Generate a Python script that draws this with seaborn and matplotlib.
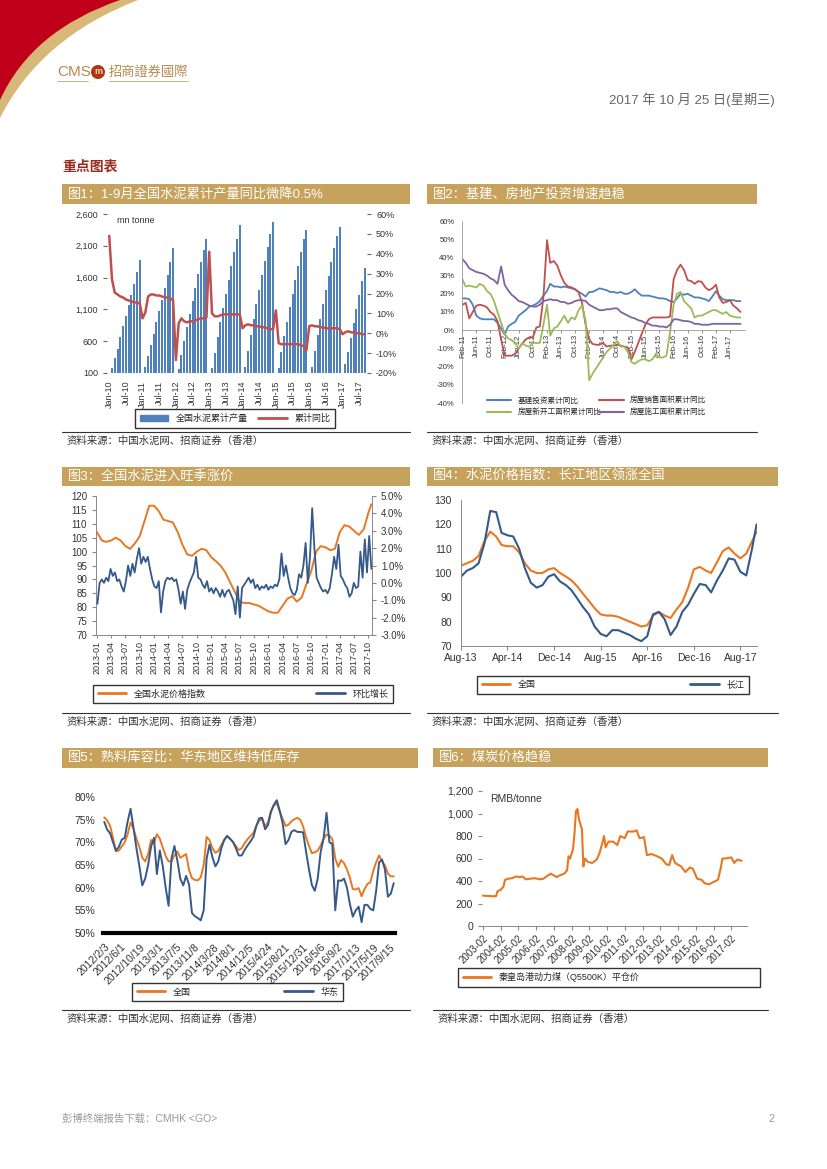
import numpy as np
import pandas as pd
import matplotlib
matplotlib.use("Agg")
import matplotlib.pyplot as plt
import matplotlib.patches as mpatches
from matplotlib.path import Path
from matplotlib.lines import Line2D
import seaborn as sns

sns.set_style("white")
plt.rcParams["font.family"] = ["Liberation Sans", "Noto Sans CJK SC", "DejaVu Sans"]
plt.rcParams["axes.unicode_minus"] = False

nan = np.nan

# ---------------- data ----------------
# fig1: cumulative cement output (mn tonne) and cumulative yoy (%), Jan-10 .. Sep-17
cement_prod = [
    nan, 180, 330, 480, 660, 840, 1000, 1170, 1330, 1500, 1690, 1870,
    nan, 200, 360, 540, 720, 900, 1080, 1250, 1440, 1640, 1850, 2060,
    nan, 160, 380, 600, 830, 1030, 1230, 1440, 1650, 1850, 2030, 2200,
    nan, 180, 420, 660, 900, 1120, 1340, 1560, 1780, 2000, 2210, 2420,
    nan, 200, 440, 700, 950, 1180, 1400, 1640, 1860, 2080, 2290, 2480,
    nan, 180, 430, 680, 900, 1130, 1350, 1570, 1780, 2000, 2200, 2350,
    nan, 190, 450, 700, 950, 1180, 1400, 1620, 1850, 2060, 2260, 2400,
    nan, 240, 430, 650, 880, 1110, 1330, 1540, 1750]
cement_yoy = [
    49, 27, 20.5, 19.5, 18.5, 18, 17, 16.5, 16, 15.5, 15.5, 15,
    7.5, 10.5, 18.5, 19.5, 19.5, 19, 19, 18.5, 18, 18, 17.5, 16.5,
    -13.5, 5, 7.5, 6, 5.5, 6, 6, 6.5, 7, 7.5, 7.5, 8,
    41, 10, 8.5, 8.5, 9, 9.5, 9.5, 9.5, 9.5, 9.5, 9.5, 9.5,
    2.5, 4, 4.5, 4, 4, 3.5, 3.5, 3, 3, 2.5, 2, 2,
    11.5, -5, -5.5, -5.5, -5.5, -5.5, -5.5, -5.5, -5.5, -6, -6.5, -8.5,
    3.5, 4, 3.5, 3.5, 3, 3, 2.5, 2.5, 2.5, 2.5, 2.5, 2,
    -0.5, 0.5, 1, 0.5, 0.5, 0, 0, -0.5, -0.5]
cement_ticks = ["Jan-10", "Jul-10", "Jan-11", "Jul-11", "Jan-12", "Jul-12", "Jan-13", "Jul-13",
                "Jan-14", "Jul-14", "Jan-15", "Jul-15", "Jan-16", "Jul-16", "Jan-17", "Jul-17"]

# fig2: investment / property yoy (%), Feb-11 .. Sep-17
infra_yoy = [
    17.5, 17.5, 17, 14, 8, 6.5, 6, 6, 6, 6, 4, 1, -2.5, 2, 3.5, 4.5, 8, 9.5, 11, 13,
    13.5, 14.5, 16, 19, 21.5, 25.5, 24, 24, 23.5, 24, 23.5, 23, 22.5, 21, 20, 18.5, 21, 21, 22, 23,
    22.5, 22, 21, 21, 20.5, 21, 20, 20, 21, 22.5, 20.5, 19, 19, 19, 18.5, 18, 17.5, 17.5, 17, 16,
    15.5, 17.5, 20, 19.5, 20, 19, 18, 18, 17.5, 17, 16, 18.5, 21.5, 19, 17, 16.5, 16.5, 16.5, 16, 16]
sales_yoy = [
    14, 15, 6.5, 10, 13.5, 14, 13.5, 12.5, 10, 8.5, 5, -5, -14, -14, -14, -13, -10, -7.5, -5, -4,
    -4, 1.5, 2, 18, 49.5, 37, 38, 35.5, 30, 26, 24, 23.5, 22.5, 21, 15, 3, -5, -7.5, -8, -8,
    -7, -9, -8.5, -8.5, -8, -8.5, -9, -9.5, -16, -12, -7, -2, 3, 6, 7, 7, 7, 7, 7, 7.5,
    28, 33, 36, 33, 27.5, 27, 25.5, 27, 26.5, 23.5, 22, 23, 25, 18, 15, 15.5, 16.5, 13.5, 12, 10]
starts_yoy = [
    28, 24, 24.5, 24, 23.5, 25.5, 24.5, 21.5, 20, 16, 10, 4, -2, -4.5, -5.5, -7, -10, -7, -8.5, -9,
    -7, -7, -7, 3, 14, -3, 1, 2, 5, 8, 4, 7, 6, 11, 13.5, 5, -27.5, -24, -21, -18,
    -15, -12, -10, -8, -6, -9, -9, -12, -17.5, -18.5, -17, -16, -16, -17, -16, -13, -15, -15, -14, -1,
    14, 20, 21, 16, 14, 12, 7, 8, 8, 9, 10, 11, 11, 10, 9, 10, 8, 7.5, 7, 7]
construct_yoy = [
    39, 37, 34, 33, 32, 31.5, 31, 30, 28.5, 27.5, 25.5, 35, 25, 22, 19.5, 18, 16, 15.5, 14.5, 13.5,
    13, 13, 14, 16, 16.5, 17, 16.5, 16.5, 15.5, 15.5, 14.5, 15, 16, 16.5, 16.5, 16, 14, 13, 12, 11,
    11, 11.5, 11.5, 12, 12, 10, 9, 8, 7, 6.5, 5.5, 5, 4, 3.5, 2.5, 2.5, 2, 2, 1.5, 3,
    6, 6, 5.5, 5, 5, 4.5, 3.5, 3.5, 3, 3, 3, 3.5, 3.5, 3.5, 3.5, 3.5, 3.5, 3.5, 3.5, 3.5]

# fig3: national cement price index (monthly) and w/w change (%, bi-weekly)
price_index = [
    107, 104, 103.5, 104, 105, 104, 102, 101, 103, 105.5,
    111, 116.5, 116.5, 114.5, 111.5, 111, 110.5, 107, 102.5, 99,
    98.5, 100, 101, 100.5, 98, 96.5, 95, 92.5, 89, 85.5,
    82, 81.5, 81.5, 81, 80.5, 79.5, 78.5, 78, 78, 80.5,
    83, 84, 82, 83.5, 88.5, 93, 100, 102, 101.5, 100.5,
    101, 107, 109.5, 109, 107.5, 106, 108, 114, 117]
price_chg = [
    -1.2, 0.0, 0.2, 0.0, 0.3, 0.1, 0.8, 0.4, 0.6, 0.1,
    0.2, -0.2, -0.5, 0.1, 1.0, 0.4, 1.1, 0.6, 1.4, 2.0,
    1.1, 1.5, 1.2, 1.5, 0.8, 0.2, -0.2, -0.3, 0.1, -1.7,
    -0.5, 0.1, 0.3, 0.2, 0.3, 0.1, 0.2, -0.4, -1.2, -0.5,
    -1.5, -0.4, 0.0, 0.3, 0.6, 1.5, 0.3, 0.2, -0.1, -0.3,
    0.1, -0.5, -0.3, -0.6, -0.3, -0.5, -0.8, -0.4, -0.8, -0.5,
    -0.4, -0.7, -1.0, -1.8, -0.2, -2.0, -0.3, -0.1, 0.1, 0.3,
    0.0, 0.2, -0.3, -0.1, -0.4, -0.2, -0.3, -0.1, -0.4, -0.2,
    -0.3, -0.1, -0.2, 0.2, 1.7, 0.4, 1.0, 0.3, -0.3, -0.6,
    -0.7, -0.4, 0.5, 0.3, 1.0, 2.3, 0.0, 1.5, 4.3, 2.0,
    0.3, 0.0, -0.3, -0.5, -0.4, -0.6, -0.3, 0.5, 1.5, 0.8,
    2.2, 0.4, 0.2, -0.1, -0.3, -0.8, -0.6, 0.0, -0.3, -0.2,
    1.8, 0.3, 2.5, 0.6, 2.7, 0.8]

# fig4: price index, national vs Yangtze
idx_national = [
    103, 104, 105, 107, 113, 117, 115, 111.5, 111, 111,
    108.5, 104, 101, 100, 100, 101.5, 102, 100, 98.5, 97,
    94.5, 91.5, 88.5, 85.5, 83, 82.5, 82.5, 82, 81, 80,
    79, 78, 78.5, 82.5, 84, 82.5, 81.5, 85, 88, 94,
    101.5, 102.5, 101, 100, 104.5, 109, 110.5, 108, 106, 108,
    113, 117]
idx_yangtze = [
    98.5, 101, 102, 104, 112, 125.5, 125, 116.5, 115.5, 115,
    110, 102, 96, 94, 95, 98.5, 99.5, 96.5, 95, 93,
    89.5, 86, 83, 78, 75, 74, 76.5, 76.5, 75.5, 74.5,
    73, 72, 74, 83, 84, 81, 74.5, 78, 84, 87,
    91.5, 95.5, 95, 92, 97, 101, 106, 105.5, 100.5, 99,
    110, 120]
idx_ticks = ["Aug-13", "Apr-14", "Dec-14", "Aug-15", "Apr-16", "Dec-16", "Aug-17"]

# fig5: clinker inventory ratio (%), national vs East China
inv_national = [
    75.5, 74.8, 73.6, 71, 68, 68.2, 69.1, 70, 71.8, 74.4,
    73, 70.8, 69, 66.6, 65.8, 67.4, 70.5, 69.8, 71.8, 70.8,
    68.9, 67, 65.8, 65.8, 67.1, 68, 66.6, 67, 67.4, 63.9,
    62.1, 61.7, 61.6, 62.3, 64.9, 71.2, 70.5, 68.7, 67.7, 68.1,
    69.4, 70.5, 71.4, 70.8, 70.1, 69.2, 68.3, 68.7, 69.8, 70.7,
    71.4, 72.1, 73.6, 74.8, 75.1, 73.6, 74.4, 76.9, 78.1, 78.6,
    76.8, 75.2, 73.6, 73.9, 74.6, 75.1, 75.4, 75, 73.5, 71.1,
    69.3, 67.6, 67.8, 68.2, 69.3, 70.8, 71.7, 71.5, 70.7, 66.4,
    64.6, 66.1, 65.4, 64, 62.2, 59.7, 59.6, 59.9, 58.1, 59.7,
    60.8, 61.2, 63.7, 65.6, 67.1, 65.8, 64.9, 63.1, 62.5, 62.5]
inv_east = [
    74.5, 72.8, 72, 70, 68.2, 69, 70.6, 71, 74.6, 77.4,
    73.2, 68.7, 64.8, 60.5, 62, 65, 69, 71, 63, 68.2,
    64.8, 60, 56, 66.5, 69.2, 66, 62, 60.5, 62.6, 60.7,
    54.4, 53.7, 53.3, 52.8, 55, 66.4, 69.5, 66.7, 64.7, 65.8,
    68.6, 70.5, 71.4, 70.8, 70.1, 68.7, 67.1, 67.1, 68.3, 69.3,
    70.2, 71.2, 73.6, 75.3, 75.4, 72.9, 73.8, 76.7, 78.3, 79.3,
    77, 74.2, 69.6, 70.5, 72.3, 72.7, 72.3, 72.3, 72.2, 68,
    64.1, 60.6, 59.3, 62, 67.9, 70.8, 76.5, 70, 69.6, 55,
    61.6, 61.5, 62, 60, 56.4, 53.6, 55, 55.8, 52.4, 56.2,
    56.2, 55.3, 55, 59.4, 65.6, 66.2, 64, 58, 58.7, 61]
inv_ticks = ["2012/2/3", "2012/6/1", "2012/10/19", "2013/3/1", "2013/7/5", "2013/11/8",
             "2014/3/28", "2014/8/1", "2014/12/5", "2015/4/24", "2015/8/21", "2015/12/31",
             "2016/5/6", "2016/9/2", "2017/1/13", "2017/5/19", "2017/9/15"]

# fig6: Qinhuangdao thermal coal price (RMB/tonne)
coal_dates = [
    "2003-02", "2003-08", "2003-11", "2003-12", "2004-02", "2004-04", "2004-05", "2004-07",
    "2004-10", "2004-12", "2005-03", "2005-05", "2005-07", "2005-10", "2006-01", "2006-05",
    "2006-07", "2006-09", "2006-12", "2007-02", "2007-04", "2007-06", "2007-09", "2007-11",
    "2007-12", "2008-01", "2008-03", "2008-04", "2008-05", "2008-06", "2008-07", "2008-09",
    "2008-10", "2008-11", "2009-01", "2009-04", "2009-07", "2009-09", "2009-11", "2009-12",
    "2010-01", "2010-03", "2010-06", "2010-09", "2010-11", "2011-02", "2011-04", "2011-08",
    "2011-10", "2011-12", "2012-03", "2012-05", "2012-08", "2012-11", "2013-03", "2013-06",
    "2013-08", "2013-10", "2013-12", "2014-04", "2014-07", "2014-10", "2014-12", "2015-03",
    "2015-06", "2015-08", "2015-11", "2016-01", "2016-05", "2016-07", "2016-08", "2016-10",
    "2017-02", "2017-04", "2017-06", "2017-09"]
coal_price = [
    270, 265, 265, 310, 320, 350, 410, 420,
    425, 440, 435, 440, 415, 420, 425, 415,
    420, 440, 465, 450, 435, 450, 465, 495,
    620, 600, 680, 820, 1020, 1040, 950, 860,
    530, 600, 570, 560, 590, 650, 750, 800,
    700, 750, 750, 720, 800, 780, 840, 840,
    850, 780, 790, 630, 640, 625, 600, 550,
    540, 630, 560, 530, 480, 520, 510, 420,
    410, 380, 370, 385, 410, 520, 600, 600,
    610, 560, 590, 580]

# ---------------- page ----------------
W, H = 827, 1169
GOLD = "#C6A25C"
BLUE = "#4F81BD"
RED = "#C0504D"
GREEN = "#9BBB59"
PURPLE = "#8064A2"
ORANGE = "#E87722"
NAVY = "#35598A"
TXT = "#333333"

fig = plt.figure(figsize=(8.27, 11.69), dpi=100)


def fx(x):
    return x / W


def fy(y):
    return 1 - y / H


def box(x0, y0, x1, y1):
    return [fx(x0), fy(y1), (x1 - x0) / W, (y1 - y0) / H]


def hline(x0, x1, y, color, lw):
    fig.add_artist(Line2D([fx(x0), fx(x1)], [fy(y), fy(y)], transform=fig.transFigure,
                          color=color, lw=lw))


def swoosh(x_top, y_left, cx, cy, color):
    verts = [(fx(0), fy(0)), (fx(x_top), fy(0)), (fx(cx), fy(cy)), (fx(0), fy(y_left)), (fx(0), fy(0))]
    codes = [Path.MOVETO, Path.LINETO, Path.CURVE3, Path.CURVE3, Path.CLOSEPOLY]
    fig.add_artist(mpatches.PathPatch(Path(verts, codes), transform=fig.transFigure,
                                      facecolor=color, edgecolor="none"))


def title_bar(x0, y0, x1, y1, text):
    fig.add_artist(mpatches.Rectangle((fx(x0), fy(y1)), (x1 - x0) / W, (y1 - y0) / H,
                                      transform=fig.transFigure, facecolor=GOLD, edgecolor="none"))
    fig.text(fx(x0 + 6), fy((y0 + y1) / 2), text, color="white", fontsize=9.5, va="center")


def source(x0, x1, y):
    hline(x0, x1, y, "#333333", 0.8)
    fig.text(fx(x0 + 5), fy(y + 9), "资料来源：中国水泥网、招商证券（香港）", color=TXT,
             fontsize=7.5, va="center")


def legend_box(handles, labels, x0, y0, x1, y1, ncol, frame=True, fs=6.5):
    leg = fig.legend(handles, labels, loc="center", ncol=ncol,
                     bbox_to_anchor=(fx(x0), fy(y1), (x1 - x0) / W, (y1 - y0) / H),
                     bbox_transform=fig.transFigure, mode="expand", frameon=frame,
                     fancybox=False, edgecolor="black", fontsize=fs, borderaxespad=0,
                     handlelength=3.2, columnspacing=1.0, borderpad=0.5)
    leg.get_frame().set_linewidth(1.0)


# header
swoosh(138, 118, 40, 38, "#D8B878")
swoosh(120, 100, 32, 30, "#C00018")
fig.text(fx(57), fy(72), "CMS", color="#B38B4D", fontsize=11, va="center")
fig.add_artist(mpatches.Ellipse((fx(98), fy(72)), 14 / W, 14 / H, transform=fig.transFigure,
                                facecolor="#B0341A", edgecolor="none"))
fig.text(fx(98), fy(72), "m", color="#F3D9A0", fontsize=6.5, va="center", ha="center", fontweight="bold")
fig.text(fx(109), fy(72), "招商證券國際", color="#B38B4D", fontsize=9.5, va="center",
         family=["Noto Sans CJK TC", "DejaVu Sans"])
hline(57, 88, 81, "#C9A66B", 0.6)
hline(109, 188, 81, "#C9A66B", 0.6)
fig.text(fx(775), fy(100), "2017 年 10 月 25 日(星期三)", color="#666666", fontsize=9.5,
         va="center", ha="right")
fig.text(fx(62), fy(167), "重点图表", color="#9B2D20", fontsize=10, fontweight="bold", va="center")

# footer
fig.text(fx(62), fy(1119), "彭博终端报告下载：CMHK <GO>", color="#999999", fontsize=7.5, va="center")
fig.text(fx(775), fy(1119), "2", color="#999999", fontsize=8, va="center", ha="right")

# title bars and sources
title_bar(62, 184, 410, 204, "图1：1-9月全国水泥累计产量同比微降0.5%")
title_bar(427, 184, 757, 204, "图2：基建、房地产投资增速趋稳")
title_bar(62, 467, 410, 486, "图3：全国水泥进入旺季涨价")
title_bar(427, 467, 778, 486, "图4：水泥价格指数：长江地区领涨全国")
title_bar(62, 748, 418, 768, "图5：熟料库容比：华东地区维持低库存")
title_bar(433, 748, 768, 767, "图6：煤炭价格趋稳")
source(62, 410, 432)
source(427, 757, 432)
source(62, 410, 713)
source(427, 778, 713)
source(62, 410, 1010)
source(433, 768, 1010)


def clean(ax):
    ax.set_xlabel("")
    ax.set_ylabel("")
    for s in ax.spines.values():
        s.set_visible(False)


# ---------------- fig 1 ----------------
ax1 = fig.add_axes(box(107, 214, 367, 373))
df1 = pd.DataFrame({"i": np.arange(len(cement_prod)), "prod": cement_prod}).dropna()
sns.barplot(data=df1, x="i", y="prod", native_scale=True, color=BLUE, saturation=1,
            width=0.72, linewidth=0, edgecolor="none", ax=ax1)
ax1.set_ylim(100, 2600)
ax1.set_xlim(-0.8, len(cement_prod) - 0.2)
ax1.set_yticks(range(100, 2601, 500))
ax1.set_yticklabels([f"{v:,}" for v in range(100, 2601, 500)])
ax1.set_xticks(range(0, len(cement_prod), 6))
ax1.set_xticklabels(cement_ticks, rotation=90)
clean(ax1)
ax1.tick_params(axis="y", left=True, length=3, color="#666", labelsize=6.5, labelcolor=TXT)
ax1.tick_params(axis="x", bottom=False, labelsize=6.5, labelcolor=TXT, pad=2)
ax1.text(0.04, 0.96, "mn tonne", transform=ax1.transAxes, fontsize=6.5, color=TXT, va="center")
ax1b = ax1.twinx()
sns.lineplot(x=np.arange(len(cement_yoy)), y=cement_yoy, ax=ax1b, color=RED, lw=1.8, legend=False)
ax1b.set_ylim(-20, 60)
ax1b.set_yticks(range(-20, 61, 10))
ax1b.set_yticklabels([f"{v}%" for v in range(-20, 61, 10)])
clean(ax1b)
ax1b.tick_params(axis="y", right=True, length=3, color="#666", labelsize=6.5, labelcolor=TXT)
legend_box([mpatches.Patch(color=BLUE), Line2D([], [], color=RED, lw=2)],
           ["全国水泥累计产量", "累计同比"], 135, 410, 335, 427, 2)

# ---------------- fig 2 ----------------
inv_months = pd.date_range("2011-02-01", periods=len(infra_yoy), freq="MS")
ax2 = fig.add_axes(box(462, 221, 745, 403))
series2 = [(infra_yoy, BLUE), (sales_yoy, RED), (starts_yoy, GREEN), (construct_yoy, PURPLE)]
for vals, col in series2:
    sns.lineplot(x=inv_months, y=vals, ax=ax2, color=col, lw=1.3, legend=False)
ax2.set_ylim(-40, 60)
ax2.set_xlim(inv_months[0] - pd.Timedelta(days=4), pd.Timestamp("2017-10-10"))
clean(ax2)
ax2.spines["left"].set_visible(True)
ax2.spines["left"].set_color("#999999")
ax2.spines["left"].set_linewidth(0.6)
ax2.spines["bottom"].set_visible(True)
ax2.spines["bottom"].set_position(("data", 0))
ax2.spines["bottom"].set_color("#999999")
ax2.spines["bottom"].set_linewidth(0.6)
ax2.set_yticks(range(-40, 61, 10))
ax2.set_yticklabels([f"{v}%" for v in range(-40, 61, 10)])
ax2.set_xticks(inv_months[::4])
ax2.set_xticklabels([d.strftime("%b-%y") for d in inv_months[::4]], rotation=90)
ax2.tick_params(axis="y", labelsize=5.5, labelcolor=TXT, pad=2)
ax2.tick_params(axis="x", bottom=True, length=2, color="#999", labelsize=5.5, labelcolor=TXT, pad=1)
# column-major fill: col1 = infra, starts ; col2 = sales, construction
leg2_cols = [BLUE, GREEN, RED, PURPLE]
legend_box([Line2D([], [], color=c, lw=1.5) for c in leg2_cols],
           ["基建投资累计同比", "房屋新开工面积累计同比", "房屋销售面积累计同比", "房屋施工面积累计同比"],
           483, 395, 710, 419, 2, frame=False, fs=5.5)

# ---------------- fig 3 ----------------
idx_dates3 = list(pd.date_range("2013-01-01", periods=len(price_index) - 1, freq="MS")) + [pd.Timestamp("2017-10-20")]
chg_dates3 = pd.date_range("2013-01-04", periods=len(price_chg), freq="14D")
ax3 = fig.add_axes(box(96, 496, 372, 635))
sns.lineplot(x=idx_dates3, y=price_index, ax=ax3, color=ORANGE, lw=1.4, legend=False)
ax3.set_ylim(70, 120)
ax3.set_xlim(pd.Timestamp("2012-12-26"), pd.Timestamp("2017-10-24"))
ax3.set_yticks(range(70, 121, 5))
q_ticks = pd.date_range("2013-01-01", "2017-10-01", freq="QS-JAN")
ax3.set_xticks(q_ticks)
ax3.set_xticklabels([d.strftime("%Y-%m") for d in q_ticks], rotation=90)
clean(ax3)
for s in ["left", "bottom"]:
    ax3.spines[s].set_visible(True)
    ax3.spines[s].set_color("#888888")
    ax3.spines[s].set_linewidth(0.7)
ax3.tick_params(axis="y", left=True, length=3, color="#888", labelsize=7, labelcolor=TXT)
ax3.tick_params(axis="x", bottom=True, length=2, color="#888", labelsize=6.5, labelcolor=TXT, pad=2)
ax3b = ax3.twinx()
sns.lineplot(x=chg_dates3, y=price_chg, ax=ax3b, color=NAVY, lw=1.3, legend=False)
ax3b.set_ylim(-3, 5)
ax3b.set_yticks(range(-3, 6))
ax3b.set_yticklabels([f"{v:.1f}%" for v in range(-3, 6)])
clean(ax3b)
ax3b.spines["right"].set_visible(True)
ax3b.spines["right"].set_color("#888888")
ax3b.spines["right"].set_linewidth(0.7)
ax3b.tick_params(axis="y", right=True, length=3, color="#888", labelsize=7, labelcolor=TXT)
legend_box([Line2D([], [], color=ORANGE, lw=2), Line2D([], [], color=NAVY, lw=2)],
           ["全国水泥价格指数", "环比增长"], 93, 680, 393, 708, 2)

# ---------------- fig 4 ----------------
dates4 = list(pd.date_range("2013-08-01", periods=len(idx_national) - 1, freq="MS")) + [pd.Timestamp("2017-10-25")]
ax4 = fig.add_axes(box(461, 500, 757, 646))
sns.lineplot(x=dates4, y=idx_national, ax=ax4, color=ORANGE, lw=1.5, legend=False)
sns.lineplot(x=dates4, y=idx_yangtze, ax=ax4, color=NAVY, lw=1.5, legend=False)
ax4.set_ylim(70, 130)
ax4.set_xlim(pd.Timestamp("2013-08-01"), pd.Timestamp("2017-10-27"))
ax4.set_yticks(range(70, 131, 10))
t4 = pd.date_range("2013-08-01", periods=len(idx_ticks), freq="8MS")
ax4.set_xticks(t4)
ax4.set_xticklabels(idx_ticks)
clean(ax4)
for s in ["left", "bottom"]:
    ax4.spines[s].set_visible(True)
    ax4.spines[s].set_color("#888888")
    ax4.spines[s].set_linewidth(0.7)
ax4.tick_params(axis="y", labelsize=7.5, labelcolor=TXT, pad=3)
ax4.tick_params(axis="x", bottom=True, length=3, color="#888", labelsize=7.5, labelcolor=TXT, pad=2)
legend_box([Line2D([], [], color=ORANGE, lw=2), Line2D([], [], color=NAVY, lw=2)],
           ["全国", "长江"], 477, 674, 749, 696, 2)

# ---------------- fig 5 ----------------
dates5 = pd.date_range("2012-02-03", periods=len(inv_national), freq="21D")
ax5 = fig.add_axes(box(103, 797, 395, 933))
sns.lineplot(x=dates5, y=inv_national, ax=ax5, color=ORANGE, lw=1.4, legend=False)
sns.lineplot(x=dates5, y=inv_east, ax=ax5, color=NAVY, lw=1.4, legend=False)
ax5.set_ylim(50, 80)
ax5.set_xlim(pd.Timestamp("2012-01-25"), pd.Timestamp("2017-10-22"))
ax5.set_yticks(range(50, 81, 5))
ax5.set_yticklabels([f"{v}%" for v in range(50, 81, 5)])
ax5.set_xticks(pd.to_datetime(inv_ticks, format="%Y/%m/%d"))
ax5.set_xticklabels(inv_ticks, rotation=45, ha="right", rotation_mode="anchor")
clean(ax5)
ax5.spines["bottom"].set_visible(True)
ax5.spines["bottom"].set_color("black")
ax5.spines["bottom"].set_linewidth(3)
ax5.tick_params(axis="y", labelsize=7.5, labelcolor=TXT, pad=2)
ax5.tick_params(axis="x", bottom=False, labelsize=7.5, labelcolor=TXT, pad=3)
legend_box([Line2D([], [], color=ORANGE, lw=2), Line2D([], [], color=NAVY, lw=2)],
           ["全国", "华东"], 132, 982, 343, 1002, 2)

# ---------------- fig 6 ----------------
dates6 = pd.to_datetime(coal_dates, format="%Y-%m")
ax6 = fig.add_axes(box(482, 791, 747, 926))
sns.lineplot(x=dates6, y=coal_price, ax=ax6, color=ORANGE, lw=1.5, legend=False)
ax6.set_ylim(0, 1200)
ax6.set_xlim(pd.Timestamp("2003-01-15"), pd.Timestamp("2017-12-20"))
ax6.set_yticks(range(0, 1201, 200))
ax6.set_yticklabels([f"{v:,}" for v in range(0, 1201, 200)])
t6 = pd.date_range("2003-02-01", "2017-02-01", freq="12MS")
ax6.set_xticks(t6)
ax6.set_xticklabels([d.strftime("%Y-%m") for d in t6], rotation=45, ha="right", rotation_mode="anchor")
clean(ax6)
ax6.spines["bottom"].set_visible(True)
ax6.spines["bottom"].set_color("#888888")
ax6.spines["bottom"].set_linewidth(0.7)
ax6.tick_params(axis="y", left=True, length=3, color="#888", labelsize=7.5, labelcolor=TXT)
ax6.tick_params(axis="x", bottom=True, length=3, color="#888", labelsize=7, labelcolor=TXT, pad=2)
ax6.text(0.03, 0.94, "RMB/tonne", transform=ax6.transAxes, fontsize=7.5, color=TXT, va="center")
legend_box([Line2D([], [], color=ORANGE, lw=2)],
           ["秦皇岛港动力煤（Q5500K）平仓价"], 458, 965, 760, 990, 1)

fig.savefig("out.png", dpi=100)
